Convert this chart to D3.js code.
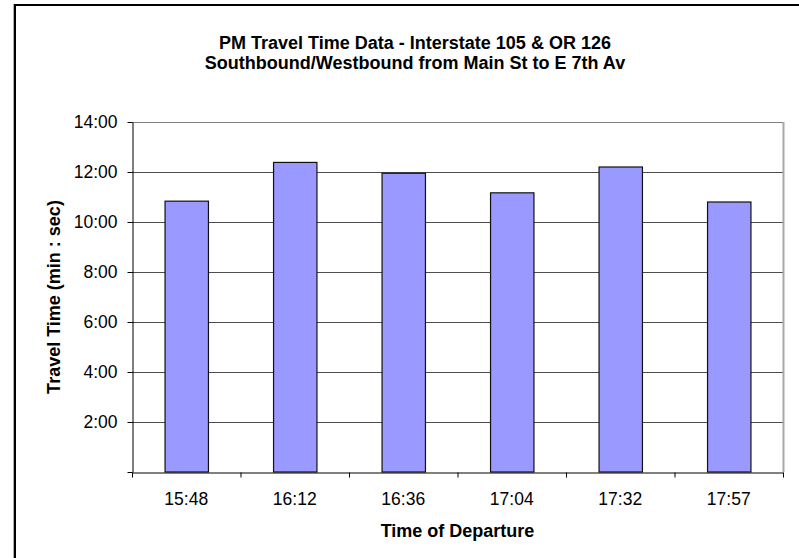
<!DOCTYPE html>
<html><head><meta charset="utf-8">
<script src="https://cdn.jsdelivr.net/npm/d3@7"></script>
<style>
body{margin:0;background:#fff;overflow:hidden}
text{font-family:"Liberation Sans",Arial,sans-serif;fill:#000}
</style>
</head><body>
<svg id="chart" width="799" height="558"></svg>
<script>
// ---- data ----
const categories = ["15:48","16:12","16:36","17:04","17:32","17:57"];
const travelSeconds = [650, 743, 717, 670, 732, 648]; // 10:50, 12:23, 11:57, 11:10, 12:12, 10:48
const yTickSeconds = [0, 120, 240, 360, 480, 600, 720, 840];
const titleLines = ["PM Travel Time Data - Interstate 105 & OR 126",
                    "Southbound/Westbound from Main St to E 7th Av"];
const xAxisTitle = "Time of Departure";
const yAxisTitle = "Travel Time (min : sec)";

const svg = d3.select("#chart");
const L = 132, R = 783, T = 122, B = 472;

// outer chart border
svg.append("line").attr("x1",13.5).attr("x2",13.5).attr("y1",4).attr("y2",600)
  .attr("stroke","#b0b0b0").attr("stroke-width",1);
svg.append("rect").attr("x",15).attr("y",5).attr("width",900).attr("height",700)
  .attr("fill","none").attr("stroke","#000").attr("stroke-width",2);

const x = d3.scaleBand().domain(categories).range([L,R]).paddingInner(0.6).paddingOuter(0.3);
const y = d3.scaleLinear().domain([0,840]).range([B,T]);
const xEdge = d3.scaleLinear().domain([0,categories.length]).range([L,R]);

const fmt = s => s === 0 ? "" : `${Math.floor(s/60)}:${String(s%60).padStart(2,"0")}`;

// gridlines
svg.append("g").selectAll("line").data(yTickSeconds.filter(d=>d>0)).join("line")
  .attr("x1",L).attr("x2",R).attr("y1",d=>Math.round(y(d))+0.5).attr("y2",d=>Math.round(y(d))+0.5)
  .attr("stroke",d=>d===840?"#808080":"#4d4d4d").attr("stroke-width",1);

// right plot border
svg.append("line").attr("x1",R+0.5).attr("x2",R+0.5).attr("y1",T).attr("y2",B)
  .attr("stroke","#a8a8a8").attr("stroke-width",2);

// bars
svg.append("g").selectAll("rect").data(categories).join("rect")
  .attr("x",d=>x(d)+0.5)
  .attr("y",(d,i)=>y(travelSeconds[i]))
  .attr("width",x.bandwidth())
  .attr("height",(d,i)=>B - y(travelSeconds[i]))
  .attr("fill","#9999ff").attr("stroke","#111").attr("stroke-width",1.2);

// y axis
const yAxis = svg.append("g").attr("transform",`translate(${L+0.5},0)`)
  .call(d3.axisLeft(y).tickValues(yTickSeconds).tickFormat(fmt).tickSize(5).tickPadding(10).tickSizeOuter(0));
yAxis.select(".domain").attr("stroke","#000");
yAxis.selectAll(".tick line").attr("stroke","#000");
yAxis.selectAll("text").style("font-size","17.5px").attr("fill","#000");

// x axis ticks at band edges
const xTicks = svg.append("g").attr("transform",`translate(0,${B+0.5})`)
  .call(d3.axisBottom(xEdge).tickValues(d3.range(categories.length+1)).tickFormat("").tickSize(5).tickSizeOuter(0));
xTicks.select(".domain").attr("stroke","#000");
xTicks.selectAll(".tick line").attr("stroke","#000");

// x axis labels
const xAxis = svg.append("g").attr("transform",`translate(0,${B})`)
  .call(d3.axisBottom(x).tickSize(0).tickPadding(21));
xAxis.select(".domain").remove();
xAxis.selectAll("text").style("font-size","17.5px").attr("fill","#000");

// titles
svg.append("text").attr("text-anchor","middle")
  .style("font-size","18px").style("font-weight","bold")
  .selectAll("tspan").data(titleLines).join("tspan")
  .attr("x",415).attr("y",(d,i)=>49+i*20).text(d=>d);

svg.append("text").attr("x",(L+R)/2).attr("y",537).attr("text-anchor","middle")
  .style("font-size","18px").style("font-weight","bold").text(xAxisTitle);

svg.append("text").attr("transform",`translate(60,${(T+B)/2}) rotate(-90)`)
  .attr("text-anchor","middle")
  .style("font-size","18px").style("font-weight","bold").text(yAxisTitle);
</script>
</body></html>
